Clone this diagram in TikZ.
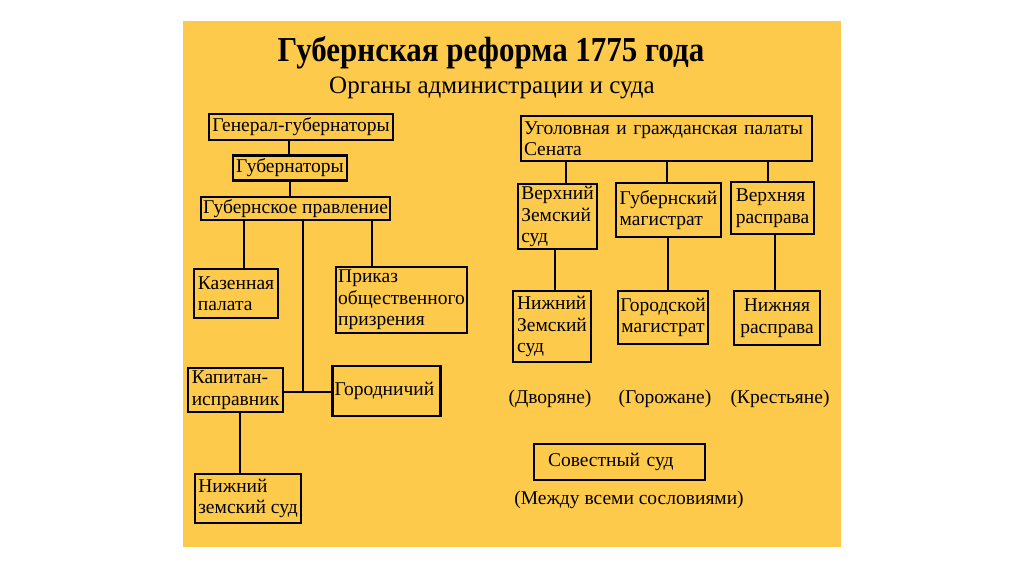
\documentclass[tikz,border=0pt]{standalone}
\usepackage{fontspec}
\setmainfont{Liberation Serif}
\newfontfamily\titlefont[FakeStretch=0.885]{Liberation Serif}
\usepackage{tikz}
\usetikzlibrary{calc}

\definecolor{slideyellow}{RGB}{254,202,76}

\begin{document}
\begin{tikzpicture}[x=1pt, y=-1pt]
\tikzstyle{block} = [rectangle, draw, line width=2.4pt, inner xsep=1pt, inner ysep=2pt, align=left, font=\fontsize{19.5}{21.5}\selectfont]
\tikzstyle{caption} = [font=\fontsize{19.5}{21.5}\selectfont]
\tikzstyle{line} = [draw, line width=2.4pt]

\useasboundingbox (0,0) rectangle (1024,574);
\fill[white] (0,0) rectangle (1024,574);
\fill[slideyellow] (183,21) rectangle (841,547);

\node[font=\titlefont\bfseries\fontsize{35}{38}\selectfont, anchor=base] (title) at (491,61) {Губернская реформа 1775 года};
\node[font=\fontsize{25}{28}\selectfont, anchor=base] (subtitle) at (492,93) {Органы администрации и суда};

% administration
\node[block, minimum width=184pt, minimum height=26pt] (gengub) at (301,127) {Генерал-губернаторы};
\node[block, minimum width=114pt, minimum height=25pt] (gub) at (290,168) {Губернаторы};
\node[block, minimum width=189pt, minimum height=23pt] (gubpr) at (295.5,208.5) {Губернское правление};
\node[block, minimum width=84pt, minimum height=49pt] (kazpal) at (236,293.5) {Казенная\\палата};
\node[block, minimum width=131pt, minimum height=66pt] (prikaz) at (401.5,300) {Приказ\\общественного\\призрения};
\node[block, minimum width=95pt, minimum height=44pt] (kapitan) at (235.5,390) {Капитан-\\исправник};
\node[block, text width=104pt, inner xsep=2pt, minimum height=50pt] (gorodn) at (386.5,391) {Городничий};
\node[block, minimum width=106pt, minimum height=49pt] (nizhzs) at (248,498.5) {Нижний\\земский суд};

\path [line] (gengub.south -| 289,0) -- (gub.north -| 289,0);
\path [line] (gub.south -| 290,0) -- (gubpr.north -| 290,0);
\path [line] (gubpr.south -| 244,0) -- (kazpal.north -| 244,0);
\path [line] (gubpr.south -| 372,0) -- (prikaz.north -| 372,0);
\coordinate (junction) at (303,392);
\path [line] (gubpr.south -| junction) -- (junction);
\path [line] (kapitan.east |- junction) -- (gorodn.west |- junction);
\path [line] (kapitan.south -| 240,0) -- (nizhzs.north -| 240,0);

% courts
\node[block, text width=285pt, inner xsep=3pt, minimum height=45pt] (senat) at (666.5,138.5) {Уголовная и гражданская палаты\\Сената};
\node[block, minimum width=79pt, minimum height=65pt] (verhzs) at (557.5,216.5) {Верхний\\Земский\\суд};
\node[block, minimum width=105pt, minimum height=54pt] (gubmag) at (668.5,210) {Губернский\\магистрат};
\node[block, minimum width=83pt, minimum height=52pt] (verhras) at (772.5,208) {Верхняя\\расправа};
\node[block, minimum width=78pt, minimum height=71pt] (nizhnzs) at (552,326.5) {Нижний\\Земский\\суд};
\node[block, align=center, minimum width=90pt, minimum height=53pt] (gormag) at (663,317.5) {Городской\\магистрат};
\node[block, align=center, minimum width=86pt, minimum height=54pt] (nizhras) at (777,318) {Нижняя\\расправа};

\path [line] (senat.south -| 566,0) -- (verhzs.north -| 566,0);
\path [line] (senat.south -| 667,0) -- (gubmag.north -| 667,0);
\path [line] (senat.south -| 768,0) -- (verhras.north -| 768,0);
\path [line] (verhzs.south -| 555,0) -- (nizhnzs.north -| 555,0);
\path [line] (gubmag.south -| 668,0) -- (gormag.north -| 668,0);
\path [line] (verhras.south -| 775,0) -- (nizhras.north -| 775,0);

\node[caption] (dvor) at (550,399) {(Дворяне)};
\node[caption] (gorozh) at (665,399) {(Горожане)};
\node[caption] (krest) at (780,399) {(Крестьяне)};

\node[block, inner xsep=14pt, text width=143pt, minimum height=36pt] (sovsud) at (619.5,462) {Совестный суд};
\node[caption] (vsesosl) at (629,500) {(Между всеми сословиями)};
\end{tikzpicture}
\end{document}
